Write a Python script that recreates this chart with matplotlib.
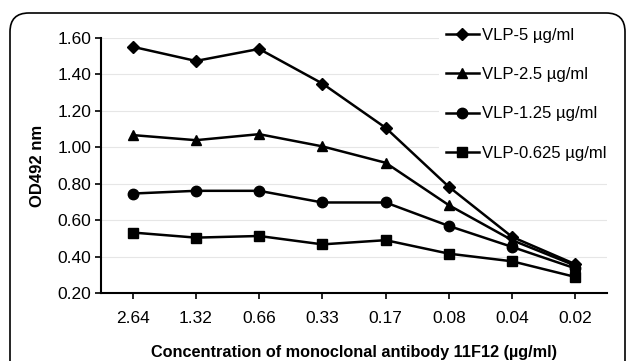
import matplotlib.pyplot as plt
from matplotlib.patches import FancyBboxPatch

plt.rcParams['font.family'] = ['Liberation Sans', 'DejaVu Sans']

concentrations = ['2.64', '1.32', '0.66', '0.33', '0.17', '0.08', '0.04', '0.02']
vlp_5 = [1.552, 1.474, 1.540, 1.350, 1.107, 0.783, 0.508, 0.358]
vlp_2_5 = [1.067, 1.039, 1.072, 1.005, 0.915, 0.682, 0.490, 0.350]
vlp_1_25 = [0.746, 0.761, 0.761, 0.697, 0.697, 0.568, 0.453, 0.335]
vlp_0_625 = [0.532, 0.504, 0.513, 0.467, 0.490, 0.416, 0.374, 0.288]
series_labels = ['VLP-5 µg/ml', 'VLP-2.5 µg/ml', 'VLP-1.25 µg/ml', 'VLP-0.625 µg/ml']
markers = ['D', '^', 'o', 's']
marker_sizes = [6, 7.5, 7.5, 7]

fig = plt.figure(figsize=(6.27, 3.61), dpi=100)
W, H = 627, 361

# rounded frame around the whole figure
frame = FancyBboxPatch((10 / W, -0.1), 615 / W, (H - 13) / H + 0.1,
                       boxstyle='round,pad=0,rounding_size=0.03',
                       transform=fig.transFigure, facecolor='none',
                       edgecolor='black', linewidth=1.2, mutation_aspect=W / H)
fig.patches.append(frame)

ax = fig.add_axes([101 / W, 1 - 293 / H, 506 / W, 255 / H])
x = list(range(len(concentrations)))
for vals, lab, m, ms in zip([vlp_5, vlp_2_5, vlp_1_25, vlp_0_625], series_labels, markers, marker_sizes):
    ax.plot(x, vals, color='black', linewidth=1.8, marker=m, markersize=ms, label=lab, zorder=3)

ax.set_xlim(-0.5, 7.5)
ax.set_ylim(0.2, 1.6)
ax.set_yticks([0.2, 0.4, 0.6, 0.8, 1.0, 1.2, 1.4, 1.6])
ax.set_yticklabels(['%.2f' % v for v in ax.get_yticks()], fontsize=12.5)
ax.set_xticks(x)
ax.set_xticklabels(concentrations, fontsize=12.5)
ax.grid(axis='y', color='#e6e6e6', linewidth=0.8, zorder=0)
ax.set_axisbelow(True)
for s in ['top', 'right']:
    ax.spines[s].set_visible(False)
for s in ['left', 'bottom']:
    ax.spines[s].set_linewidth(1.5)
ax.tick_params(axis='both', direction='out', length=4, width=1.2, colors='black')
ax.tick_params(axis='x', pad=9)
ax.tick_params(axis='y', pad=3)

ax.set_ylabel('OD492 nm', fontsize=12, fontweight='bold', labelpad=9)
ax.set_xlabel('Concentration of monoclonal antibody 11F12 (µg/ml)', fontsize=11.7,
              fontweight='bold', labelpad=14)

leg = ax.legend(loc='upper left', bbox_to_anchor=(338 / 506, 1.065), frameon=True,
                fontsize=12, handlelength=2.0, handletextpad=0.15, labelspacing=1.45,
                borderaxespad=0)
leg.get_frame().set_edgecolor('none')
leg.get_frame().set_facecolor('white')
leg.get_frame().set_alpha(1)

fig.savefig('out.png', dpi=100)
